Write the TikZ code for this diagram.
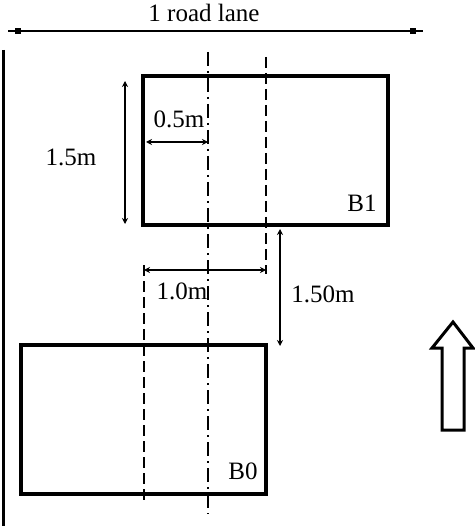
\documentclass[tikz,border=0pt]{standalone}
\usepackage{fontspec}
\setmainfont{Liberation Serif}
\usetikzlibrary{arrows.meta}
\begin{document}
\begin{tikzpicture}[x=1pt,y=-1pt,
  lbl/.style={font=\fontsize{25}{27}\selectfont, inner sep=0pt},
  box/.style={draw, line width=3.6pt, minimum width=245pt, minimum height=149pt, inner sep=0pt},
  dimline/.style={line width=2.8pt, {Stealth[length=6pt,width=6pt]}-{Stealth[length=6pt,width=6pt]}},
  dashdot/.style={line width=1.8pt, dash pattern=on 14pt off 5pt on 2pt off 5pt},
  dashln/.style={line width=1.8pt, dash pattern=on 11pt off 5pt}]
\useasboundingbox (0,0) rectangle (474,526);
% road lane
\coordinate (rl1) at (8,31);
\coordinate (rl2) at (423,31);
\draw[line width=2pt] (rl1) -- (rl2);
\node[fill, minimum size=6pt, inner sep=0pt] (m1) at (18,31) {};
\node[fill, minimum size=6pt, inner sep=0pt] (m2) at (413,31) {};
\node[lbl] (roadlbl) at (204,13) {1 road lane};
% left edge line
\coordinate (le1) at (3,50);
\coordinate (le2) at (3,526);
\draw[line width=3pt] (le1) -- (le2);
% boxes
\node[box] (B1) at (265.5,150.5) {};
\node[box] (B0) at (143.5,419.5) {};
\node[lbl, anchor=center] (b1lbl) at (362,203) {B1};
\node[lbl, anchor=center] (b0lbl) at (243,471) {B0};
% center lines
\coordinate (dd1) at (208,52);
\coordinate (dd2) at (208,514);
\draw[dashdot] (dd1) -- (dd2);
\coordinate (dr1) at (266,57);
\coordinate (dr2) at (266,274);
\draw[dashln] (dr1) -- (dr2);
\coordinate (dl1) at (144,265);
\coordinate (dl2) at (144,500);
\draw[dashln] (dl1) -- (dl2);
% dimensions
\coordinate (h5a) at (146,142);
\coordinate (h5b) at (208,142);
\draw[dimline] (h5a) -- (h5b);
\node[lbl] (l05) at (179,119) {0.5m};
\coordinate (h10a) at (144,270);
\coordinate (h10b) at (266,270);
\draw[dimline] (h10a) -- (h10b);
\node[lbl] (l10) at (182,291) {1.0m};
\coordinate (v15a) at (125,81);
\coordinate (v15b) at (125,224);
\draw[dimline] (v15a) -- (v15b);
\node[lbl] (l15) at (71,157) {1.5m};
\coordinate (v150a) at (280,229);
\coordinate (v150b) at (280,346);
\draw[dimline] (v150a) -- (v150b);
\node[lbl] (l150) at (323,294) {1.50m};
% hollow arrow
\draw[line width=3pt, line join=miter] (442,430) -- (442,348) -- (432,348) -- (453,322) -- (473,348) -- (464,348) -- (464,430) -- cycle;
\end{tikzpicture}
\end{document}
